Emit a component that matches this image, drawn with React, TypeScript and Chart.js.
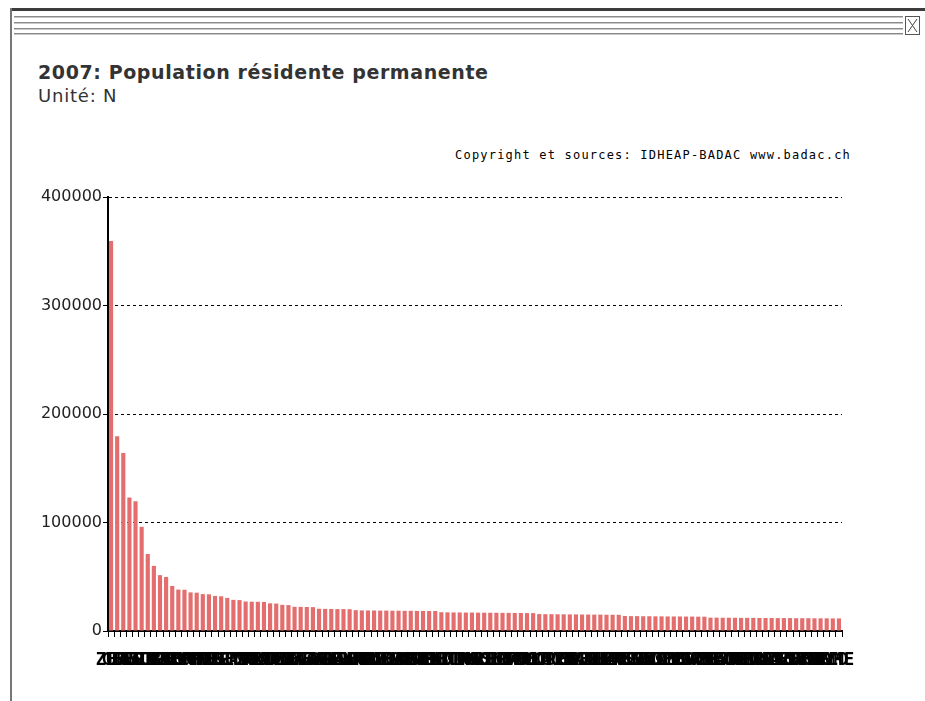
import React, { useEffect, useRef } from "react";
import { Chart, registerables } from "chart.js";

Chart.register(...registerables);

const titleText = "2007: Population résidente permanente";
const unitText = "Unité: N";
const sourceText = "Copyright et sources: IDHEAP-BADAC www.badac.ch";

const yMin = 0;
const yMax = 400000;
const yStep = 100000;

const communes = [
  "ZUR", "GEN", "BAS", "BER", "LAU", "WIN", "STG", "LUZ", "LUG", "BIE",
  "THU", "KON", "LCF", "SCH", "FRI", "CHU", "NEU", "VER", "UST", "SIO",
  "LAN", "EMM", "YVE", "ZUG", "KRI", "RAP", "DUB", "MON", "DIE", "FRA",
  "WET", "BAA", "MEY", "CAR", "WAD", "RIE", "ALL", "REN", "KRE", "AAR",
  "WTG", "HOR", "REI", "BUL", "NYO", "VEV", "KLO", "BAD", "GOS", "BEL",
  "ONE", "WIL", "OPF", "ILL", "MUT", "ADL", "BUR", "MTH", "THA", "PUL",
  "OLT", "SOL", "REG", "SLI", "HRW", "STE", "MAR", "THO", "VOL", "OST",
  "LOC", "LAG", "GRE", "SIE", "MOR", "PRA", "SPI", "BIN", "WAL", "FRE",
  "CHA", "EIN", "HER", "PRI", "VES", "GSA", "KUS", "ZOL", "EBI", "RUT",
  "ARB", "MEI", "LYS", "MUR", "WOR", "SWZ", "STA", "AMR", "GLA", "BLC",
  "BSD", "ECU", "RHE", "MEN", "OFT", "MUN", "BRI", "MAN", "UZW", "RIC",
  "AFF", "KSN", "ZOF", "LEN", "WOH", "CBG", "VEY", "ROM", "PLO", "VME",
];

const population = [
  359500, 179500, 164000, 123000, 119500, 96000, 71000, 60000, 51500, 49800,
  41500, 38200, 38000, 35600, 35300, 34000, 33800, 32300, 32000, 30500,
  28700, 28500, 27200, 27000, 26900, 26800, 25500, 25300, 24100, 23900,
  22300, 22200, 22100, 22000, 20500, 20400, 20300, 20200, 20200, 20100,
  19200, 19000, 18900, 18900, 18800, 18800, 18700, 18700, 18600, 18600,
  18500, 18500, 18400, 18400, 17300, 17200, 17100, 17100, 17000, 17000,
  16900, 16900, 16800, 16800, 16700, 16700, 16600, 16600, 16500, 16500,
  15600, 15500, 15500, 15400, 15400, 15300, 15300, 15200, 15200, 15100,
  15100, 15000, 15000, 14900, 13800, 13700, 13700, 13600, 13600, 13500,
  13500, 13400, 13400, 13400, 13300, 13300, 13200, 13200, 12300, 12300,
  12200, 12200, 12200, 12100, 12100, 12100, 12000, 12000, 12000, 11900,
  11900, 11900, 11800, 11800, 11800, 11700, 11700, 11700, 11600, 11600,
];

function ChartCanvas() {
  const ref = useRef<HTMLCanvasElement | null>(null);
  useEffect(() => {
    if (!ref.current) return;
    const chart = new Chart(ref.current, {
      type: "bar",
      data: {
        labels: communes,
        datasets: [
          {
            data: population,
            backgroundColor: "#e46e6e",
            borderWidth: 0,
            categoryPercentage: 0.68,
            barPercentage: 1,
          },
        ],
      },
      options: {
        animation: false,
        responsive: false,
        maintainAspectRatio: false,
        layout: { padding: { left: 20, right: 83, top: 197, bottom: 30 } },
        plugins: { legend: { display: false }, tooltip: { enabled: false } },
        scales: {
          x: {
            grid: {
              display: true,
              drawOnChartArea: false,
              drawTicks: true,
              tickLength: 6,
              tickColor: "#000",
              tickWidth: 1,
              color: "#000",
              offset: true,
            },
            border: { display: true, color: "#000", width: 2 },
            ticks: {
              autoSkip: false,
              maxRotation: 0,
              minRotation: 0,
              color: "#000",
              font: { family: "DejaVu Sans Mono", size: 17, weight: "bold" },
              padding: 13,
            },
            afterFit: (s: any) => {
              s.height = 40;
            },
          },
          y: {
            min: yMin,
            max: yMax,
            ticks: {
              stepSize: yStep,
              color: "#222",
              font: { family: "DejaVu Sans", size: 16 },
              padding: 1,
              callback: (v: any) => String(v),
            },
            grid: {
              color: "#000",
              lineWidth: 1,
              tickLength: 5,
              tickColor: "#000",
              drawTicks: true,
            },
            border: { display: true, color: "#000", width: 2, dash: [3, 3] },
            afterFit: (s: any) => {
              s.width = 88;
            },
          },
        },
      },
    });
    return () => chart.destroy();
  }, []);
  return (
    <canvas
      ref={ref}
      width={925}
      height={701}
      style={{ position: "absolute", left: 0, top: 0, width: 925, height: 701 }}
    />
  );
}

export default function App() {
  const lineYs = [16, 22, 28, 33];
  return (
    <div
      style={{
        position: "fixed",
        left: 0,
        top: 0,
        width: 925,
        height: 701,
        background: "#fff",
        overflow: "hidden",
      }}
    >
      <div style={{ position: "absolute", left: 10, top: 8, width: 915, height: 3, background: "#3c3c3c" }} />
      <div style={{ position: "absolute", left: 10, top: 8, width: 2, height: 693, background: "#777" }} />
      {lineYs.map((y) => (
        <div key={y}>
          <div style={{ position: "absolute", left: 14, top: y, width: 889, height: 1, background: "#8a8a8a" }} />
          <div style={{ position: "absolute", left: 14, top: y + 1, width: 889, height: 1, background: "#c8c8c8" }} />
        </div>
      ))}
      <svg
        width={16}
        height={20}
        style={{ position: "absolute", left: 905, top: 16 }}
      >
        <rect x={0.5} y={0.5} width={14} height={18} fill="#fff" stroke="#555" />
        <line x1={3} y1={3} x2={12} y2={16} stroke="#444" strokeWidth={1} />
        <line x1={12} y1={3} x2={3} y2={16} stroke="#444" strokeWidth={1} />
      </svg>
      <div
        style={{
          position: "absolute",
          left: 38,
          top: 62,
          fontFamily: "DejaVu Sans",
          fontWeight: "bold",
          fontSize: 19,
          letterSpacing: "0.6px",
          lineHeight: "21px",
          color: "#333",
          whiteSpace: "nowrap",
        }}
      >
        {titleText}
      </div>
      <div
        style={{
          position: "absolute",
          left: 38,
          top: 86,
          fontFamily: "DejaVu Sans",
          fontSize: 18,
          letterSpacing: "0.8px",
          lineHeight: "20px",
          color: "#333",
          whiteSpace: "nowrap",
        }}
      >
        {unitText}
      </div>
      <div
        style={{
          position: "absolute",
          right: 74,
          top: 148,
          fontFamily: "DejaVu Sans Mono",
          fontSize: 12,
          letterSpacing: "1.2px",
          lineHeight: "14px",
          color: "#000",
          whiteSpace: "nowrap",
        }}
      >
        {sourceText}
      </div>
      <ChartCanvas />
    </div>
  );
}
